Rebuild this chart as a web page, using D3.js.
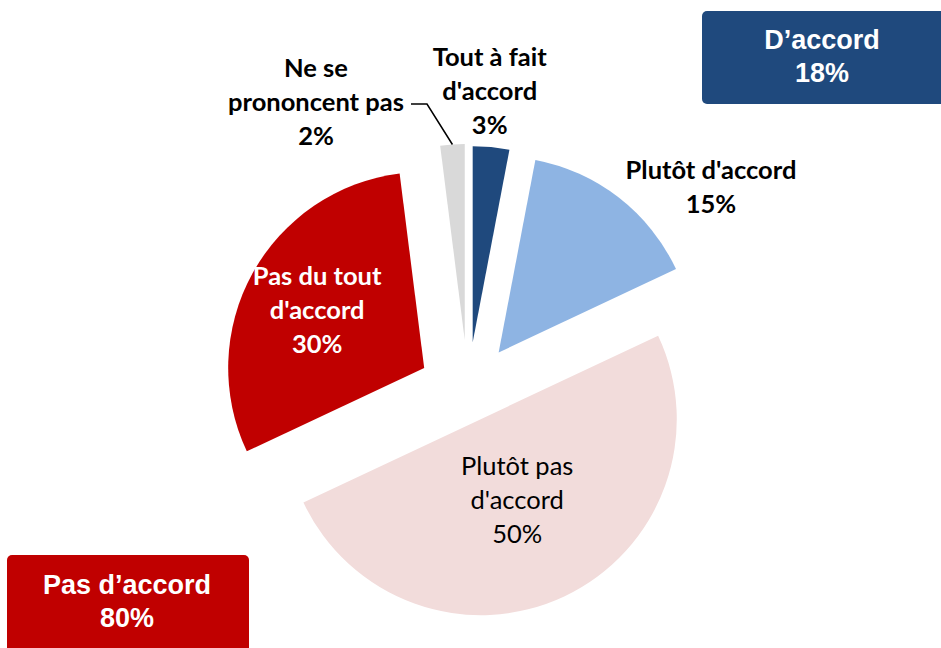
<!DOCTYPE html>
<html>
<head>
<meta charset="utf-8">
<script src="https://cdn.jsdelivr.net/npm/d3@7"></script>
<style>
  html, body { margin: 0; padding: 0; background: #fff; }
  svg { display: block; }
</style>
</head>
<body>
<div id="chart"></div>
<script>
// data, clockwise from 12 o'clock
var categories = ["Tout à fait d'accord", "Plutôt d'accord", "Plutôt pas d'accord", "Pas du tout d'accord", "Ne se prononcent pas"]
var values = [3, 15, 50, 30, 2]
var labelLines = [["Tout à fait", "d'accord", "3%"], ["Plutôt d'accord", "15%"], ["Plutôt pas", "d'accord", "50%"], ["Pas du tout", "d'accord", "30%"], ["Ne se", "prononcent pas", "2%"]]
var groupNames = ["D’accord", "Pas d’accord"]
var groupValues = [18, 80]

var width = 941, height = 648
var cx = 468, cy = 392, radius = 196
var colors = ["#1f497d", "#8eb4e3", "#f2dcdb", "#c00000", "#d9d9d9"]
var explode = [50, 50, 30, 50, 52]
var textColor = ["#000", "#000", "#000", "#fff", "#000"]
var weight = ["bold", "bold", "normal", "bold", "bold"]

var svg = d3.select('#chart').append('svg')
    .attr('width', width)
    .attr('height', height)
    .style('font-family', 'Lato, "Open Sans", sans-serif')

var pie = d3.pie().sort(null).value(d => d)
var arc = d3.arc().innerRadius(0).outerRadius(radius)
var slices = pie(values)

// offset of each exploded slice apex
function apex(d, i) {
    var a = (d.startAngle + d.endAngle) / 2
    return [cx + explode[i] * Math.sin(a), cy - explode[i] * Math.cos(a)]
}

var g = svg.append('g')
g.selectAll('path')
    .data(slices)
    .enter()
    .append('path')
    .attr('transform', (d, i) => 'translate(' + apex(d, i) + ')')
    .attr('fill', (d, i) => colors[i])
    .attr('d', arc)

// label anchors: [x, y of first line]
var labelPos = []
slices.forEach((d, i) => {
    var p = apex(d, i)
    var a = (d.startAngle + d.endAngle) / 2
    if (i == 2) labelPos.push([p[0] + radius * 0.46 * Math.sin(a) - 2, p[1] - radius * 0.46 * Math.cos(a) - 35])
    else if (i == 3) labelPos.push([p[0] + radius * 0.6 * Math.sin(a) - 4, p[1] - radius * 0.6 * Math.cos(a) - 35])
    else if (i == 0) labelPos.push([p[0] + 17, 57])
    else if (i == 1) labelPos.push([711, 170])
    else labelPos.push([316, 68])
})

var labels = svg.append('g')
slices.forEach((d, i) => {
    var t = labels.append('text')
        .attr('text-anchor', 'middle')
        .attr('font-size', 25.5)
        .attr('font-weight', weight[i])
        .attr('fill', textColor[i])
    labelLines[i].forEach((line, j) => {
        t.append('tspan')
            .attr('x', labelPos[i][0])
            .attr('y', labelPos[i][1] + j * 34)
            .attr('dy', '0.35em')
            .text(line)
    })
})

// leader line for the small grey slice
var gs = slices[4]
var gp = apex(gs, 4)
var ga = (gs.startAngle + gs.endAngle) / 2
var tip = [gp[0] + radius * Math.sin(ga), gp[1] - radius * Math.cos(ga)]
svg.append('path')
    .attr('d', d3.line()([[411, 104], [427, 104], tip]))
    .attr('fill', 'none')
    .attr('stroke', '#000')
    .attr('stroke-width', 1.5)

// summary boxes
var boxes = [
    {x: 702, y: 11, w: 250, h: 93, color: "#1f497d", cxT: 822, cyT: 40},
    {x: 7, y: 555, w: 242, h: 110, color: "#c00000", cxT: 127, cyT: 585}
]
boxes.forEach((b, i) => {
    svg.append('rect')
        .attr('x', b.x).attr('y', b.y)
        .attr('width', b.w).attr('height', b.h)
        .attr('rx', 5)
        .attr('fill', b.color)
    var t = svg.append('text')
        .attr('text-anchor', 'middle')
        .attr('fill', '#fff')
        .attr('font-weight', 'bold')
        .attr('font-size', 27)
        .attr('font-family', 'Arial, "Liberation Sans", sans-serif')
    t.append('tspan').attr('x', b.cxT).attr('y', b.cyT).attr('dy', '0.35em').text(groupNames[i])
    t.append('tspan').attr('x', b.cxT).attr('y', b.cyT + 33).attr('dy', '0.35em').text(groupValues[i] + '%')
})
</script>
</body>
</html>
